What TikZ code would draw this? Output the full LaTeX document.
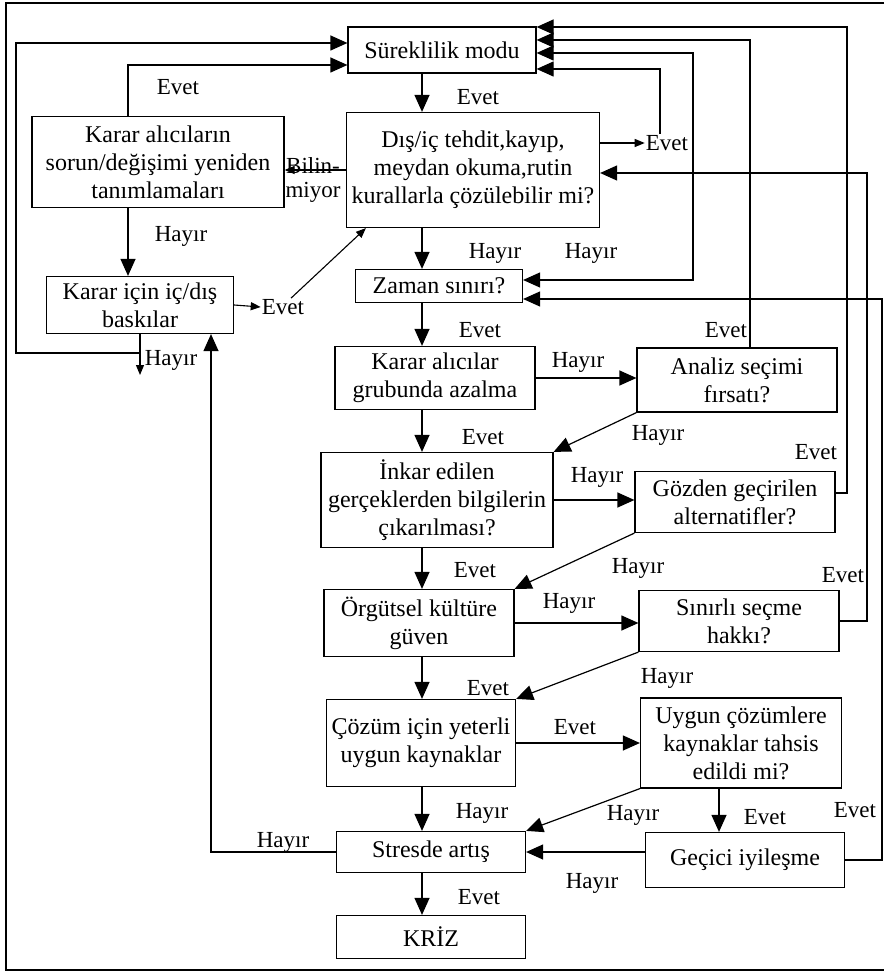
\documentclass[tikz,border=0pt]{standalone}
\usepackage{fontspec}
\setmainfont{Liberation Serif}
\usetikzlibrary{arrows.meta}

\begin{document}
\begin{tikzpicture}[x=1pt, y=-1pt,
  every node/.style={font=\fontsize{24}{28}\selectfont},
  box/.style={draw, line width=1.2pt, align=center, inner sep=0pt},
  lbl/.style={font=\fontsize{23}{24}\selectfont, inner sep=1pt, align=center},
  ar/.style={-{Triangle[length=17pt, width=15pt]}, line width=1.2pt},
  ars/.style={-{Triangle[length=10pt, width=8pt]}, line width=1.1pt},
  arb/.style={{Triangle[length=17pt, width=15pt]}-{Triangle[length=17pt, width=15pt]}, line width=1.2pt}
]
\useasboundingbox (0,0) rectangle (886,973);
\draw[line width=1.4pt] (884,3) -- (6,3) -- (6,970) -- (884,970);

% boxes
\node[box, minimum width=188pt, minimum height=46pt] (sure) at (442,50) {Süreklilik modu};
\node[box, minimum width=253pt, minimum height=115pt] (tehdit) at (473,170) {Dış/iç tehdit,kayıp,\\meydan okuma,rutin\\kurallarla çözülebilir mi?};
\node[box, minimum width=252pt, minimum height=91pt] (yeniden) at (158,162) {Karar alıcıların\\sorun/değişimi yeniden\\tanımlamaları};
\node[box, minimum width=187pt, minimum height=57pt] (baski) at (140,305) {Karar için iç/dış\\baskılar};
\node[box, minimum width=167pt, minimum height=33pt] (zaman) at (439,286) {Zaman sınırı?};
\node[box, minimum width=200pt, minimum height=63pt] (grup) at (435,378) {Karar alıcılar\\grubunda azalma};
\node[box, minimum width=200pt, minimum height=64pt] (analiz) at (737,380) {Analiz seçimi\\fırsatı?};
\node[box, minimum width=232pt, minimum height=95pt] (inkar) at (437,500) {İnkar edilen\\gerçeklerden bilgilerin\\çıkarılması?};
\node[box, minimum width=200pt, minimum height=61pt] (gozden) at (735,502) {Gözden geçirilen\\alternatifler?};
\node[box, minimum width=190pt, minimum height=67pt] (orgut) at (419,623) {Örgütsel kültüre\\güven};
\node[box, minimum width=200pt, minimum height=61pt] (sinirli) at (739,621) {Sınırlı seçme\\hakkı?};
\node[box, minimum width=189pt, minimum height=87pt] (cozum) at (421,743) {Çözüm için yeterli\\uygun kaynaklar};
\node[box, minimum width=201pt, minimum height=90pt] (uygun) at (741,743) {Uygun çözümlere\\kaynaklar tahsis\\edildi mi?};
\node[box, minimum width=189pt, minimum height=41pt] (stres) at (431,852) {Stresde artış};
\node[box, minimum width=199pt, minimum height=55pt] (gecici) at (745,860) {Geçici iyileşme};
\node[box, minimum width=189pt, minimum height=43pt] (kriz) at (431,937) {KRİZ};

% labels
\node[lbl] (l1) at (478,97) {Evet};
\node[lbl] (l2) at (495,253) {Hayır};
\node[lbl] (l3) at (591,253) {Hayır};
\node[lbl] (l4) at (480,330) {Evet};
\node[lbl] (l5) at (726,330) {Evet};
\node[lbl] (l6) at (578,362) {Hayır};
\node[lbl] (l7) at (483,437) {Evet};
\node[lbl] (l8) at (658,435) {Hayır};
\node[lbl] (l9) at (816,452) {Evet};
\node[lbl] (l10) at (597,477) {Hayır};
\node[lbl] (l11) at (475,570) {Evet};
\node[lbl] (l12) at (638,568) {Hayır};
\node[lbl] (l13) at (843,575) {Evet};
\node[lbl] (l14) at (569,603) {Hayır};
\node[lbl] (l15) at (667,678) {Hayır};
\node[lbl] (l16) at (488,688) {Evet};
\node[lbl] (l17) at (575,727) {Evet};
\node[lbl] (l18) at (855,810) {Evet};
\node[lbl] (l19) at (482,813) {Hayır};
\node[lbl] (l20) at (633,815) {Hayır};
\node[lbl] (l21) at (765,817) {Evet};
\node[lbl] (l22) at (283,842) {Hayır};
\node[lbl] (l23) at (592,883) {Hayır};
\node[lbl] (l24) at (479,897) {Evet};
\node[lbl] (l25) at (178,87) {Evet};
\node[lbl] (l26) at (181,236) {Hayır};
\node[lbl] (l27) at (171,360) {Hayır};
\node[lbl] (bilin) at (313,180) {Bilin-\\miyor};
\node[lbl] (evetb) at (283,307) {Evet};
\node[lbl] (evett) at (667,143) {Evet};

% bend points
\coordinate (colx) at (422,0);
\coordinate (ylup) at (128,65);
\coordinate (hdown) at (140,375);
\coordinate (lpa) at (140,353);
\coordinate (lpb) at (16,353);
\coordinate (lpc) at (16,43);
\coordinate (strl) at (211,852);
\coordinate (ev1) at (660,69);
\coordinate (zh) at (693,53);
\coordinate (zl) at (693,280);
\coordinate (an) at (750,40);
\coordinate (gz) at (847,27);
\coordinate (sn) at (867,173);
\coordinate (gc) at (882,299);
\coordinate (ugx) at (719,0);

% main column
\draw[ar] (sure.south -| colx) -- (tehdit.north -| colx);
\draw[ar] (tehdit.south -| colx) -- (zaman.north -| colx);
\draw[ar] (zaman.south -| colx) -- (grup.north -| colx);
\draw[ar] (grup.south -| colx) -- (inkar.north -| colx);
\draw[ar] (inkar.south -| colx) -- (orgut.north -| colx);
\draw[ar] (orgut.south -| colx) -- (cozum.north -| colx);
\draw[ar] (cozum.south -| colx) -- (stres.north -| colx);
\draw[ar] (stres.south -| colx) -- (kriz.north -| colx);

% to the right
\draw[ar] (grup.east) -- (grup.east -| analiz.west);
\draw[ar] (inkar.east) -- (inkar.east -| gozden.west);
\draw[ar] (orgut.east) -- (orgut.east -| sinirli.west);
\draw[ar] (cozum.east) -- (cozum.east -| uygun.west);
\draw[ar] (uygun.south -| ugx) -- (gecici.north -| ugx);
\draw[ar] (gecici.west |- stres.east) -- (stres.east);

% diagonals back
\draw[ar] (analiz.south west) -- (inkar.north east);
\draw[ar] (gozden.south west) -- (orgut.north east);
\draw[ar] (sinirli.south west) -- (cozum.north east);
\draw[ar] (uygun.south west) -- (stres.north east);

% left side
\draw[ars] (tehdit.west) -- (tehdit.west -| yeniden.east);
\draw[ar] (yeniden.north -| ylup) -- (ylup) -- (ylup -| sure.west);
\draw[ar] (yeniden.south -| ylup) -- (baski.north -| ylup);
\draw[ars] (baski.east) -- (evetb.west);
\draw[ars] ([xshift=8pt]evetb.north) -- ([xshift=20pt]tehdit.south west);
\draw[ars] (baski.south -| hdown) -- (hdown);
\draw[ar] (lpa) -- (lpb) -- (lpc) -- (lpc -| sure.west);
\draw[ar] (stres.west) -- (stres.west -| strl) -- (baski.south -| strl);

% right side loops
\draw[ars] ([yshift=27pt]tehdit.east) -- (evett.west);
\draw[ar] (evett.north -| ev1) -- (ev1) -- (ev1 -| sure.east);
\draw[arb] (zh -| sure.east) -- (zh) -- (zl) -- (zl -| zaman.east);
\draw[ar] (analiz.north -| an) -- (an) -- (an -| sure.east);
\draw[ar] ([yshift=9pt]gozden.east) -- ([yshift=9pt]gozden.east -| gz) -- (gz) -- (gz -| sure.east);
\draw[ar] (sinirli.east) -- (sinirli.east -| sn) -- (sn) -- (sn -| tehdit.east);
\draw[ar] (gecici.east) -- (gecici.east -| gc) -- (gc) -- (gc -| zaman.east);
\end{tikzpicture}
\end{document}
